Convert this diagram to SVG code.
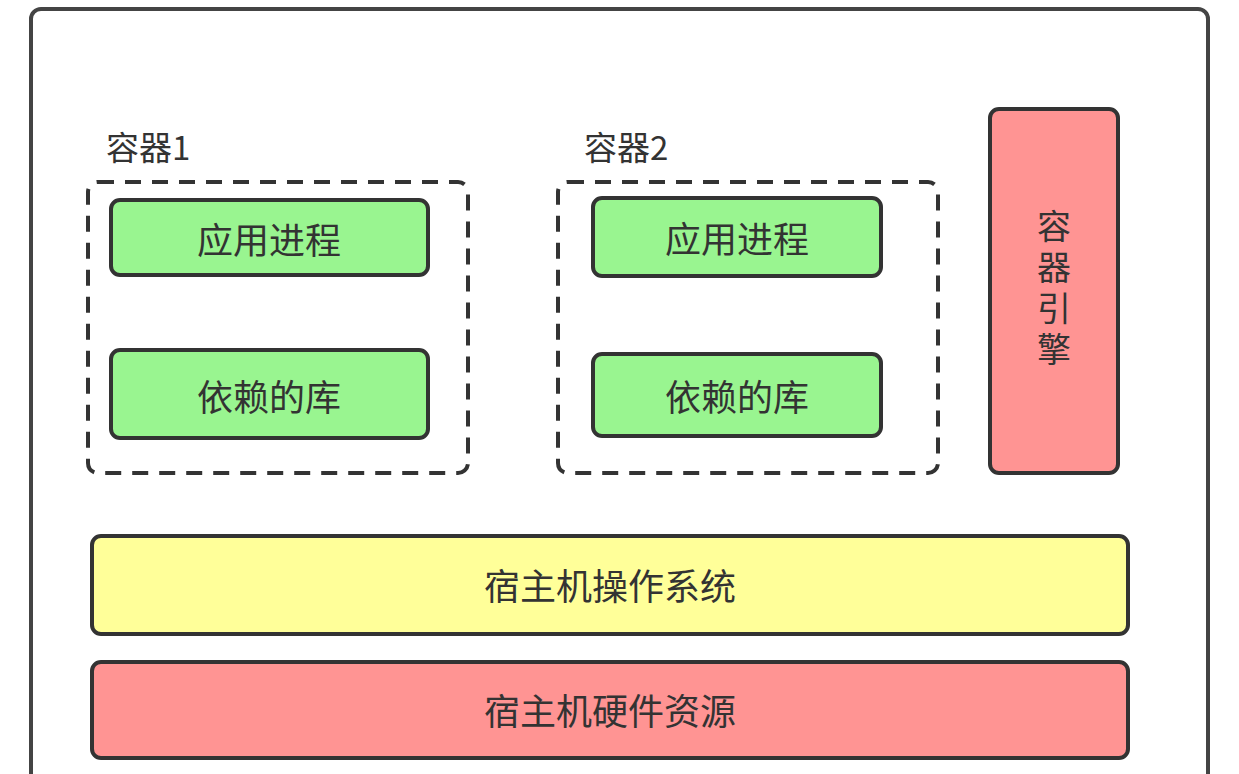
<svg xmlns="http://www.w3.org/2000/svg" width="1239" height="774" viewBox="0 0 1239 774">
<style>
.t{font-family:"Noto Sans CJK SC","Noto Sans",sans-serif;font-size:36px;fill:#333;text-anchor:middle;dominant-baseline:central}
.lbl{font-family:"Noto Sans CJK SC","Noto Sans",sans-serif;font-size:33px;fill:#333}
.g{fill:#99f590;stroke:#333;stroke-width:4}
.r{fill:#ff9493;stroke:#333;stroke-width:4}
.y{fill:#ffff99;stroke:#333;stroke-width:4}
.d{fill:none;stroke:#333;stroke-width:4;stroke-dasharray:16 11}
</style>
<rect width="1239" height="774" fill="#fff"/>
<g id="host"><rect x="31" y="9" width="1177" height="800" rx="10" fill="#fff" stroke="#444" stroke-width="4"/></g>
<g id="c1">
<text class="lbl" x="106" y="160">容器1</text>
<rect class="d" x="88" y="182" width="380" height="291" rx="10"/>
</g>
<g id="p1"><rect class="g" x="111" y="200" width="317" height="75" rx="9"/><text class="t" x="269" y="238">应用进程</text></g>
<g id="l1"><rect class="g" x="111" y="350" width="317" height="88" rx="9"/><text class="t" x="269" y="395">依赖的库</text></g>
<g id="c2">
<text class="lbl" x="584" y="160">容器2</text>
<rect class="d" x="558" y="182" width="380" height="291" rx="10"/>
</g>
<g id="p2"><rect class="g" x="593" y="198" width="288" height="78" rx="9"/><text class="t" x="737" y="237">应用进程</text></g>
<g id="l2"><rect class="g" x="593" y="354" width="288" height="82" rx="9"/><text class="t" x="737" y="395">依赖的库</text></g>
<g id="engine"><rect class="r" x="990" y="109" width="128" height="364" rx="9"/>
<text x="1054" y="291" style="font-family:'Noto Sans CJK SC','Noto Sans',sans-serif;font-size:34px;fill:#333;writing-mode:vertical-rl;text-anchor:middle;letter-spacing:7px">容器引擎</text></g>
<g id="os"><rect class="y" x="92" y="536" width="1036" height="98" rx="9"/><text class="t" x="610" y="584">宿主机操作系统</text></g>
<g id="hw"><rect class="r" x="92" y="662" width="1036" height="96" rx="9"/><text class="t" x="610" y="709">宿主机硬件资源</text></g>
<g id="connectors"></g>
</svg>
